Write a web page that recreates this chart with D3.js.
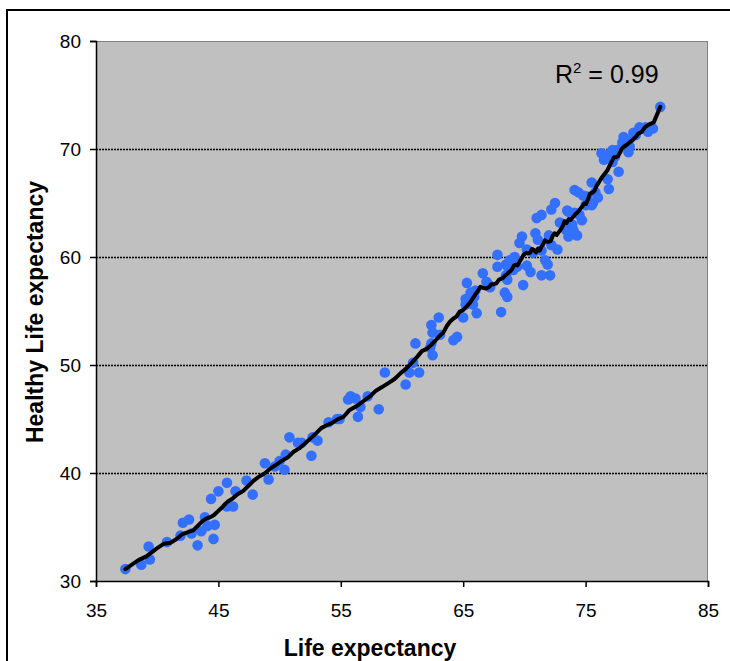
<!DOCTYPE html>
<html>
<head>
<meta charset="utf-8">
<script src="https://cdn.jsdelivr.net/npm/d3@7"></script>
<style>
  html, body { margin: 0; padding: 0; background: #fff; }
  svg { display: block; font-family: "Liberation Sans", Arial, sans-serif; }
</style>
</head>
<body>
<svg id="chart" width="730" height="661"></svg>
<script>
// Life expectancy (years) per country
const lifeExpectancy = [
  37.4, 38.7, 39.4, 39.3, 40.8, 41.9, 42.1, 42.6, 42.8, 43.3,
  43.6, 43.9, 44.1, 44.7, 44.6, 44.4, 45.0, 45.7, 46.4, 45.7,
  46.2, 47.3, 47.8, 48.8, 49.1, 49.6, 50.0, 50.5, 50.4, 50.8,
  51.5, 51.8, 52.6, 52.7, 53.1, 54.0, 54.7, 54.9, 56.4, 55.8,
  56.2, 55.6, 56.6, 57.2, 58.1, 58.6, 60.3, 60.6, 60.9, 61.4,
  62.5, 62.4, 61.1, 62.3, 62.5, 63.1, 62.4, 63.0, 64.2, 64.5,
  65.0, 65.2, 65.8, 66.1, 68.1, 65.2, 65.3, 66.0, 65.9, 65.6,
  66.6, 66.9, 67.1, 67.8, 67.8, 68.4, 68.6, 68.5, 68.5, 67.2,
  68.6, 68.7, 68.8, 69.1, 69.2, 69.4, 69.9, 70.2, 70.5, 69.8,
  70.2, 70.9, 70.7, 71.4, 71.4, 71.7, 71.9, 72.1, 71.0, 71.4,
  72.2, 72.5, 72.0, 72.7, 72.2, 73.4, 73.6, 73.6, 73.9, 74.0,
  74.3, 74.5, 74.4, 75.0, 74.8, 74.7, 73.5, 74.1, 74.1, 75.5,
  75.1, 75.6, 76.0, 75.5, 76.8, 76.9, 76.3, 77.0, 77.2, 77.4,
  77.2, 77.7, 78.0, 78.4, 78.6, 78.1, 78.9, 79.4, 79.9, 80.5,
  80.1, 81.1, 69.6, 71.1, 76.5, 77.6, 79.1, 78.5, 75.8, 72.9
];

// Healthy life expectancy (years), same country order
const healthyLifeExpectancy = [
  31.1, 31.5, 32.0, 33.2, 33.6, 34.2, 35.4, 35.7, 34.4, 33.3,
  34.6, 35.9, 35.1, 35.2, 33.9, 37.6, 38.3, 39.1, 38.3, 36.9,
  36.9, 39.3, 38.0, 40.9, 39.4, 40.6, 41.1, 41.7, 40.3, 43.3,
  42.8, 42.8, 41.6, 43.3, 43.0, 44.7, 45.0, 45.0, 45.2, 47.1,
  46.9, 46.8, 46.1, 47.1, 45.9, 49.3, 48.2, 49.3, 50.2, 49.3,
  50.9, 52.0, 52.0, 51.6, 53.0, 52.8, 53.7, 54.4, 52.3, 52.6,
  54.4, 55.6, 55.6, 54.8, 54.9, 56.1, 57.6, 56.9, 56.3, 56.7,
  58.5, 57.7, 57.4, 59.1, 60.2, 56.7, 56.3, 58.3, 59.3, 57.2,
  57.9, 59.0, 59.7, 58.8, 60.0, 59.1, 57.4, 60.7, 58.6, 61.9,
  59.2, 62.2, 60.4, 58.3, 60.6, 59.7, 59.3, 58.3, 63.6, 63.9,
  64.4, 65.0, 62.0, 60.7, 61.1, 62.5, 64.2, 61.9, 63.0, 62.5,
  62.0, 63.9, 66.0, 64.8, 65.7, 63.4, 64.3, 66.2, 64.1, 66.9,
  65.6, 65.0, 65.5, 64.8, 67.2, 66.3, 69.6, 69.6, 69.9, 69.3,
  68.8, 67.9, 70.6, 70.8, 70.2, 71.1, 71.5, 72.0, 72.0, 71.9,
  71.6, 73.9, 61.3, 61.6, 69.0, 69.9, 71.3, 69.7, 66.0, 63.2
];

const xTicks = [35, 45, 55, 65, 75, 85];
const yTicks = [30, 40, 50, 60, 70, 80];
const rSquaredLabel = "0.99";
const xTitle = "Life expectancy";
const yTitle = "Healthy Life expectancy";

const svg = d3.select("#chart");

// chart frame
svg.append("rect")
  .attr("x", 7).attr("y", 10)
  .attr("width", 800).attr("height", 800)
  .attr("fill", "#fff")
  .attr("stroke", "#000")
  .attr("stroke-width", 2);

const plot = { left: 96, right: 708, top: 41, bottom: 581 };

const x = d3.scaleLinear().domain([35, 85]).range([plot.left, plot.right]);
const y = d3.scaleLinear().domain([30, 80]).range([plot.bottom, plot.top]);

// plot area
svg.append("rect")
  .attr("x", plot.left).attr("y", plot.top)
  .attr("width", plot.right - plot.left)
  .attr("height", plot.bottom - plot.top)
  .attr("fill", "#c0c0c0");

svg.append("path")
  .attr("d", `M${plot.left},${plot.top + 0.5}H${plot.right - 0.5}V${plot.bottom}`)
  .attr("fill", "none")
  .attr("stroke", "#808080")
  .attr("stroke-width", 1);

// horizontal gridlines
svg.append("g")
  .selectAll("line")
  .data(yTicks.filter(v => v > 30 && v < 80))
  .join("line")
  .attr("x1", plot.left).attr("x2", plot.right)
  .attr("y1", d => Math.round(y(d)) + 0.5)
  .attr("y2", d => Math.round(y(d)) + 0.5)
  .attr("stroke", "#000")
  .attr("stroke-width", 1.5)
  .attr("stroke-dasharray", "2,1");

// axes
const xAxis = d3.axisBottom(x).tickValues(xTicks).tickSize(6).tickPadding(17).tickFormat(d3.format("d"));
const yAxis = d3.axisLeft(y).tickValues(yTicks).tickSize(6).tickPadding(9).tickFormat(d3.format("d"));

const gx = svg.append("g").attr("transform", `translate(0,${plot.bottom})`).call(xAxis);
const gy = svg.append("g").attr("transform", `translate(${plot.left},0)`).call(yAxis);

[gx, gy].forEach(g => {
  g.select(".domain").attr("stroke", "#000").attr("stroke-width", 1.5);
  g.selectAll(".tick line").attr("stroke", "#000").attr("stroke-width", 1.5);
  g.selectAll(".tick text")
    .attr("fill", "#000")
    .style("font-family", "'Liberation Sans', Arial, sans-serif")
    .style("font-size", "19px");
});

// points
const points = lifeExpectancy.map((v, i) => ({ le: v, hle: healthyLifeExpectancy[i] }));

svg.append("g")
  .selectAll("circle")
  .data(points)
  .join("circle")
  .attr("cx", d => x(d.le))
  .attr("cy", d => y(d.hle))
  .attr("r", 5.3)
  .attr("fill", "#3370ff");

// moving-average trend line through the points sorted by life expectancy
const sorted = points.slice().sort((a, b) => a.le - b.le);
const halfWindow = 6;
const trend = sorted.map((d, i) => {
  const k = Math.min(halfWindow, i, sorted.length - 1 - i);
  const win = sorted.slice(i - k, i + k + 1);
  return { le: d3.mean(win, w => w.le), hle: d3.mean(win, w => w.hle) };
});

svg.append("path")
  .datum(trend)
  .attr("d", d3.line().x(d => x(d.le)).y(d => y(d.hle)))
  .attr("fill", "none")
  .attr("stroke", "#000")
  .attr("stroke-width", 4)
  .attr("stroke-linejoin", "round")
  .attr("stroke-linecap", "round");

// R² label
const r2 = svg.append("text")
  .attr("x", 555).attr("y", 83)
  .style("font-size", "25px")
  .attr("fill", "#000");
r2.append("tspan").text("R");
r2.append("tspan").attr("dy", -10).style("font-size", "15px").text("2");
r2.append("tspan").attr("dy", 10).text(" = " + rSquaredLabel);

// axis titles
svg.append("text")
  .attr("x", 370).attr("y", 656)
  .attr("text-anchor", "middle")
  .style("font-size", "23px")
  .style("font-weight", "bold")
  .text(xTitle);

svg.append("text")
  .attr("transform", "translate(43,312) rotate(-90)")
  .attr("text-anchor", "middle")
  .style("font-size", "23px")
  .style("font-weight", "bold")
  .text(yTitle);
</script>
</body>
</html>
